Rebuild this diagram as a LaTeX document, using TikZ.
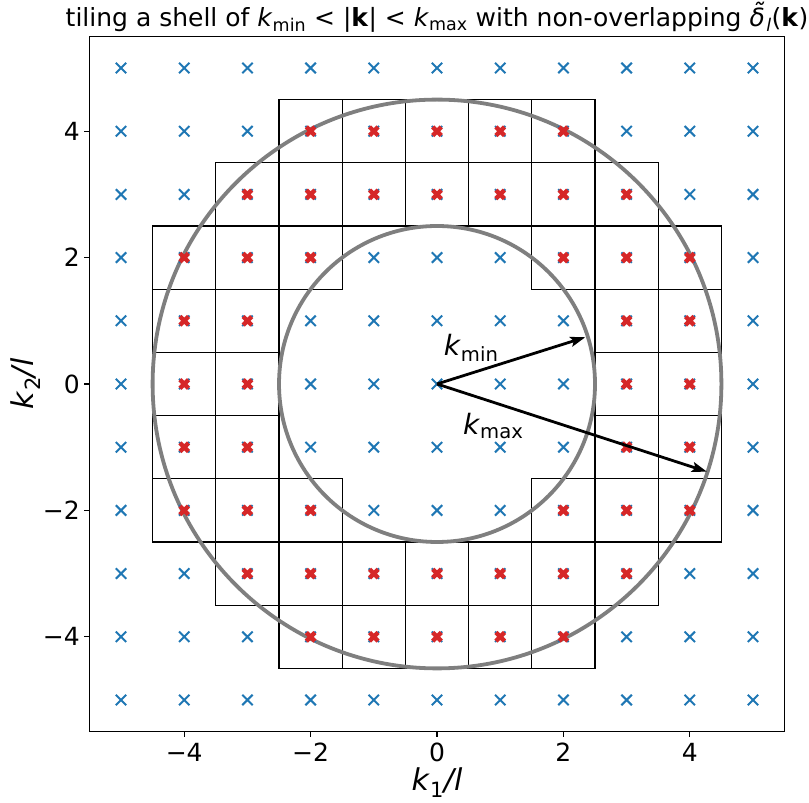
\documentclass[tikz,border=0pt]{standalone}
\usepackage{amsmath}
\usepackage{fontspec}
\setmainfont{DejaVu Sans}
\usepackage{xcolor}
\definecolor{azulTab}{HTML}{1F77B4}
\definecolor{rojoTab}{HTML}{D62728}
\definecolor{grisTab}{HTML}{7F7F7F}
\usetikzlibrary{arrows.meta}

\begin{document}
\begin{tikzpicture}[x=63.2pt, y=63.2pt,
    every node/.style={inner sep=0pt},
    celda/.style={black, line width=1.3pt},
    circulo/.style={grisTab, line width=3.8pt},
    cruzAzul/.style={azulTab, line width=2pt},
    cruzRoja/.style={rojoTab, line width=4.4pt},
    flecha/.style={line width=2.8pt,
      -{Stealth[length=15pt, width=10pt, inset=3pt]}},
    marco/.style={black, line width=1.2pt},
    marca/.style={black, line width=1.1pt}]

  \useasboundingbox (-6.915,-6.630) rectangle (5.886,6.076);

  \def\KMIN{2.5}   % radio interior
  \def\KMAX{4.5}   % radio exterior

  % ── Celdas de la capa ─────────────────────────────────────
  \foreach \i in {-5,...,5}{
    \foreach \j in {-5,...,5}{
      \pgfmathtruncatemacro\rr{\i*\i+\j*\j}
      \ifnum\rr>6 \ifnum\rr<21
        \draw[celda] (\i-0.5,\j-0.5) rectangle ++(1,1);
      \fi\fi
    }
  }

  % ── Círculos k_min y k_max ────────────────────────────────
  \coordinate (origen) at (0,0);
  \draw[circulo] (origen) circle (\KMIN);
  \draw[circulo] (origen) circle (\KMAX);

  % ── Malla de puntos ───────────────────────────────────────
  \foreach \i in {-5,...,5}{
    \foreach \j in {-5,...,5}{
      \draw[cruzAzul] (\i,\j) ++(-5.2pt,-5.2pt) -- ++(10.4pt,10.4pt)
        ++(-10.4pt,0) -- ++(10.4pt,-10.4pt);
    }
  }
  \foreach \i in {-5,...,5}{
    \foreach \j in {-5,...,5}{
      \pgfmathtruncatemacro\rr{\i*\i+\j*\j}
      \ifnum\rr>6 \ifnum\rr<21
        \draw[cruzRoja] (\i,\j) ++(-4.3pt,-4.3pt) -- ++(8.6pt,8.6pt)
          ++(-8.6pt,0) -- ++(8.6pt,-8.6pt);
      \fi\fi
    }
  }

  % ── Flechas ───────────────────────────────────────────────
  \coordinate (puntaMin) at (17.5:2.46);
  \coordinate (puntaMax) at (-18:4.49);
  \draw[flecha] (origen) -- (puntaMin);
  \draw[flecha] (origen) -- (puntaMax);
  \node[font=\fontsize{28}{32}\selectfont] (etqMin) at (0.54,0.57)
    {\textit{k}$_{\text{min}}$};
  \node[font=\fontsize{28}{32}\selectfont] (etqMax) at (0.89,-0.66)
    {\textit{k}$_{\text{max}}$};

  % ── Marco y marcas ────────────────────────────────────────
  \draw[marco] (-5.5,-5.5) rectangle (5.5,5.5);
  \foreach \t in {-4,-2,0,2,4}{
    \draw[marca] (\t,-5.5) -- ++(0,-5pt);
    \draw[marca] (-5.5,\t) -- ++(-5pt,0);
    \node[font=\fontsize{25}{30}\selectfont, anchor=north]
      (tx\t) at (\t,-5.68) {\ifnum\t<0 −\the\numexpr-\t\relax\else\t\fi};
    \node[font=\fontsize{25}{30}\selectfont, anchor=east]
      (ty\t) at (-5.65,\t) {\ifnum\t<0 −\the\numexpr-\t\relax\else\t\fi};
  }

  % ── Títulos ───────────────────────────────────────────────
  \node[font=\fontsize{30}{34}\selectfont, anchor=base] (ejeX) at (0,-6.44)
    {\textit{k}$_{\text{1}}$\textit{/l}};
  \node[font=\fontsize{30}{34}\selectfont, anchor=base, rotate=90]
    (ejeY) at (-6.39,0) {\textit{k}$_{\text{2}}$\textit{/l}};
  \node[font=\fontsize{25}{29}\selectfont, anchor=base] (titulo) at (0,5.66)
    {tiling a shell of \textit{k}$_{\text{min}}$ < |\textbf{k}| <
     \textit{k}$_{\text{max}}$ with non-overlapping
     \textit{δ̃}$_{\textit{l}}$(\textbf{k})};

\end{tikzpicture}
\end{document}
